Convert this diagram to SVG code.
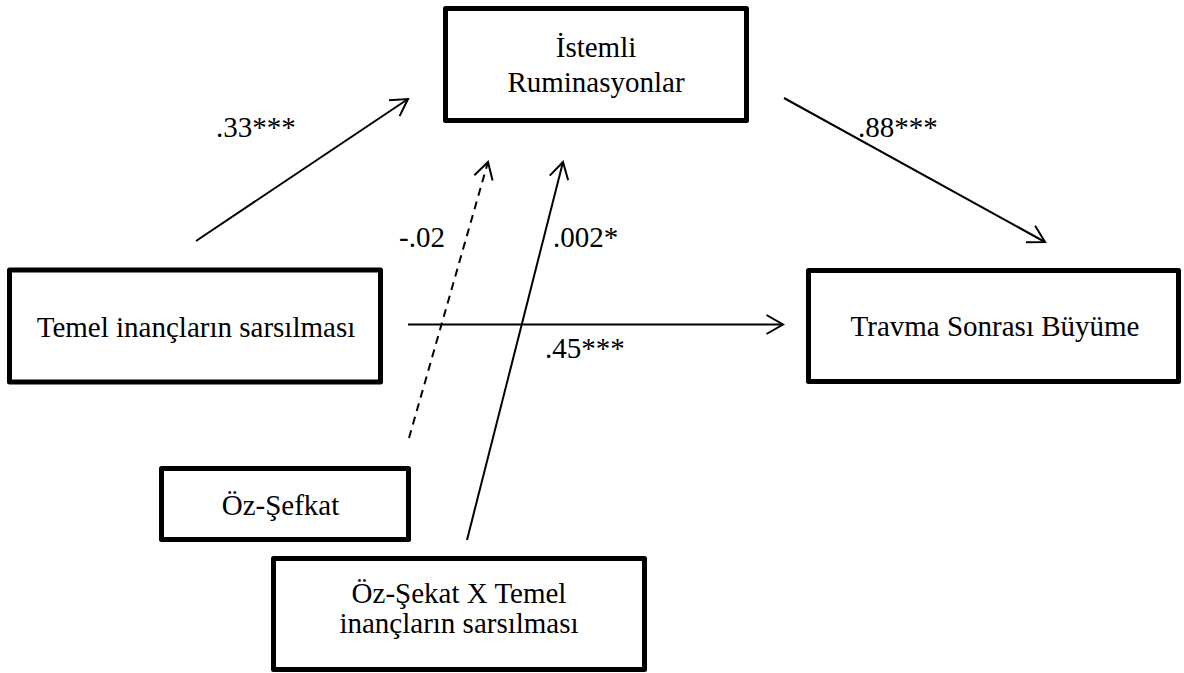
<svg xmlns="http://www.w3.org/2000/svg" width="1184" height="673" viewBox="0 0 1184 673">
<style>
.box{fill:#fff;stroke:#000;stroke-width:5;stroke-linejoin:round}
.t{font-family:"Liberation Serif","Times New Roman",serif;font-size:29px;fill:#000}
.c{text-anchor:middle}
.ln{stroke:#000;stroke-width:2;fill:none}
.dash{stroke-dasharray:8 6}
</style>
<defs>
<marker id="arr" markerUnits="userSpaceOnUse" markerWidth="40" markerHeight="40" viewBox="-20 -20 40 40" refX="0" refY="0" orient="auto" overflow="visible">
<path d="M-16.5,-9.5 L0,0 L-16.5,9.5" fill="none" stroke="#000" stroke-width="2"/>
</marker>
</defs>
<rect width="1184" height="673" fill="#fff"/>
<g id="connectors">
<line class="ln" x1="196" y1="241" x2="408" y2="99" marker-end="url(#arr)"/>
<line class="ln" x1="784" y1="98" x2="1045" y2="242" marker-end="url(#arr)"/>
<line class="ln" x1="408" y1="324.5" x2="783" y2="324.5" marker-end="url(#arr)"/>
<line class="ln dash" x1="409" y1="438" x2="488" y2="162" marker-end="url(#arr)"/>
<line class="ln" x1="467" y1="540" x2="563" y2="162" marker-end="url(#arr)"/>
<text class="t" x="216" y="137">.33***</text>
<text class="t" x="858" y="137">.88***</text>
<text class="t" x="399" y="247">-.02</text>
<text class="t" x="553" y="247">.002*</text>
<text class="t" x="545" y="358">.45***</text>
</g>
<g id="node-istemli">
<rect class="box" x="445.5" y="8.5" width="301" height="112"/>
<text class="t c" x="596" y="57">İstemli</text>
<text class="t c" x="596" y="92">Ruminasyonlar</text>
</g>
<g id="node-temel">
<rect class="box" x="9.5" y="270" width="371" height="112"/>
<text class="t c" x="196" y="337">Temel inançların sarsılması</text>
</g>
<g id="node-travma">
<rect class="box" x="808.5" y="270.5" width="370" height="111"/>
<text class="t c" x="995" y="336">Travma Sonrası Büyüme</text>
</g>
<g id="node-ozsefkat">
<rect class="box" x="161.5" y="468.5" width="247" height="71"/>
<text class="t c" x="280.5" y="515">Öz-Şefkat</text>
</g>
<g id="node-interaction">
<rect class="box" x="273.5" y="558.5" width="371" height="111"/>
<text class="t c" x="459" y="603">Öz-Şekat X Temel</text>
<text class="t c" x="459" y="633">inançların sarsılması</text>
</g>
</svg>
